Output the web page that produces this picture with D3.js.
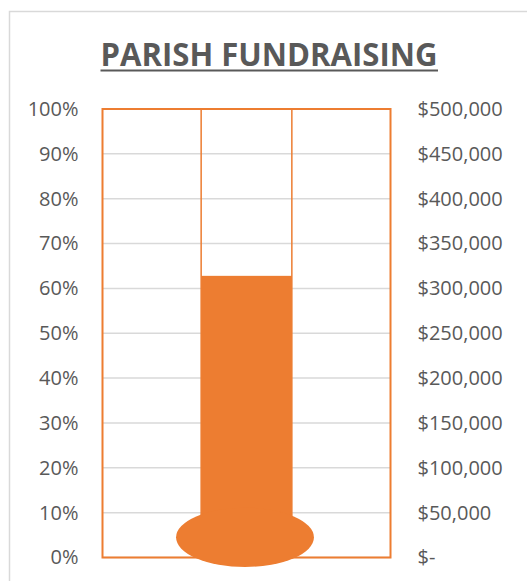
<!DOCTYPE html>
<html><head><meta charset="utf-8">
<script src="https://cdn.jsdelivr.net/npm/d3@7"></script>
<style>html,body{margin:0;padding:0;background:#fff;}svg{display:block;}</style>
</head><body>
<svg id="c" width="527" height="581"></svg>
<script>
const title = "PARISH FUNDRAISING";
const categories = ["Raised"];
const raisedPct = [0.628];
const goalPct = [1.0];
const pctTicks = [0,0.1,0.2,0.3,0.4,0.5,0.6,0.7,0.8,0.9,1.0];
const dollarTicks = [0,50000,100000,150000,200000,250000,300000,350000,400000,450000,500000];
const goalDollars = 500000;

const svg = d3.select("#c");
const W = 527, H = 581;
const plot = {l:102.5, r:390.5, t:109, b:557.5};
const orange = "#ED7D31", gray = "#595959", grid = "#D9D9D9";

// outer chart frame
svg.append("rect").attr("x",9.5).attr("y",11.5).attr("width",W+20).attr("height",H+20)
  .attr("fill","#fff").attr("stroke","#D9D9D9").attr("stroke-width",1.5);

const x = d3.scaleBand().domain(categories).range([plot.l, plot.r]).paddingInner(0.521).paddingOuter(0.521);
const y = d3.scaleLinear().domain([0,1]).range([plot.b, plot.t]);
const y2 = d3.scaleLinear().domain([0,goalDollars]).range([plot.b, plot.t]);

// gridlines
svg.append("g").selectAll("line").data(pctTicks).join("line")
  .attr("x1",plot.l).attr("x2",plot.r).attr("y1",d=>y(d)).attr("y2",d=>y(d))
  .attr("stroke",grid).attr("stroke-width",1.5);

// left axis
const axL = svg.append("g").attr("transform",`translate(${plot.l-24},0)`)
  .call(d3.axisLeft(y).tickValues(pctTicks).tickFormat(d3.format(".0%")).tickSize(0).tickPadding(0));
axL.select(".domain").remove();
axL.selectAll("text").attr("fill",gray).style("font-family","'Open Sans'").style("font-size","20px");

// right axis
const fmt = d => d===0 ? "$-" : "$" + d3.format(",")(d);
const axR = svg.append("g").attr("transform",`translate(${plot.r+27},0)`)
  .call(d3.axisRight(y2).tickValues(dollarTicks).tickFormat(fmt).tickSize(0).tickPadding(0));
axR.select(".domain").remove();
axR.selectAll("text").attr("fill",gray).style("font-family","'Open Sans'").style("font-size","20px");

// plot area border
svg.append("rect").attr("x",plot.l).attr("y",plot.t).attr("width",plot.r-plot.l).attr("height",plot.b-plot.t)
  .attr("fill","none").attr("stroke",orange).attr("stroke-width",2);

// tube (goal) outline
svg.append("g").selectAll("rect").data(categories).join("rect")
  .attr("x",d=>x(d)).attr("width",x.bandwidth())
  .attr("y",(d,i)=>y(goalPct[i])).attr("height",(d,i)=>y(0)-y(goalPct[i]))
  .attr("fill","none").attr("stroke",orange).attr("stroke-width",1.5);

// filled bar
svg.append("g").selectAll("rect").data(categories).join("rect")
  .attr("x",d=>x(d)).attr("width",x.bandwidth())
  .attr("y",(d,i)=>y(raisedPct[i])).attr("height",(d,i)=>y(0)-y(raisedPct[i]))
  .attr("fill",orange);

// bulb
svg.append("g").selectAll("ellipse").data(categories).join("ellipse")
  .attr("cx",d=>x(d)+x.bandwidth()/2-1.5)
  .attr("cy",y(0.045))
  .attr("rx",x.bandwidth()*0.76)
  .attr("ry",(y(0)-y(0.1))*0.66)
  .attr("fill",orange);

// title
const t = svg.append("text").attr("x",269).attr("y",65.5).attr("text-anchor","middle")
  .attr("fill",gray).style("font-family","'Open Sans'").style("font-weight","bold").style("font-size","33px")
  .attr("textLength",337).attr("lengthAdjust","spacingAndGlyphs").text(title);
svg.append("line").attr("x1",100.5).attr("x2",438).attr("y1",70.5).attr("y2",70.5)
  .attr("stroke",gray).attr("stroke-width",2);
</script>
</body></html>
